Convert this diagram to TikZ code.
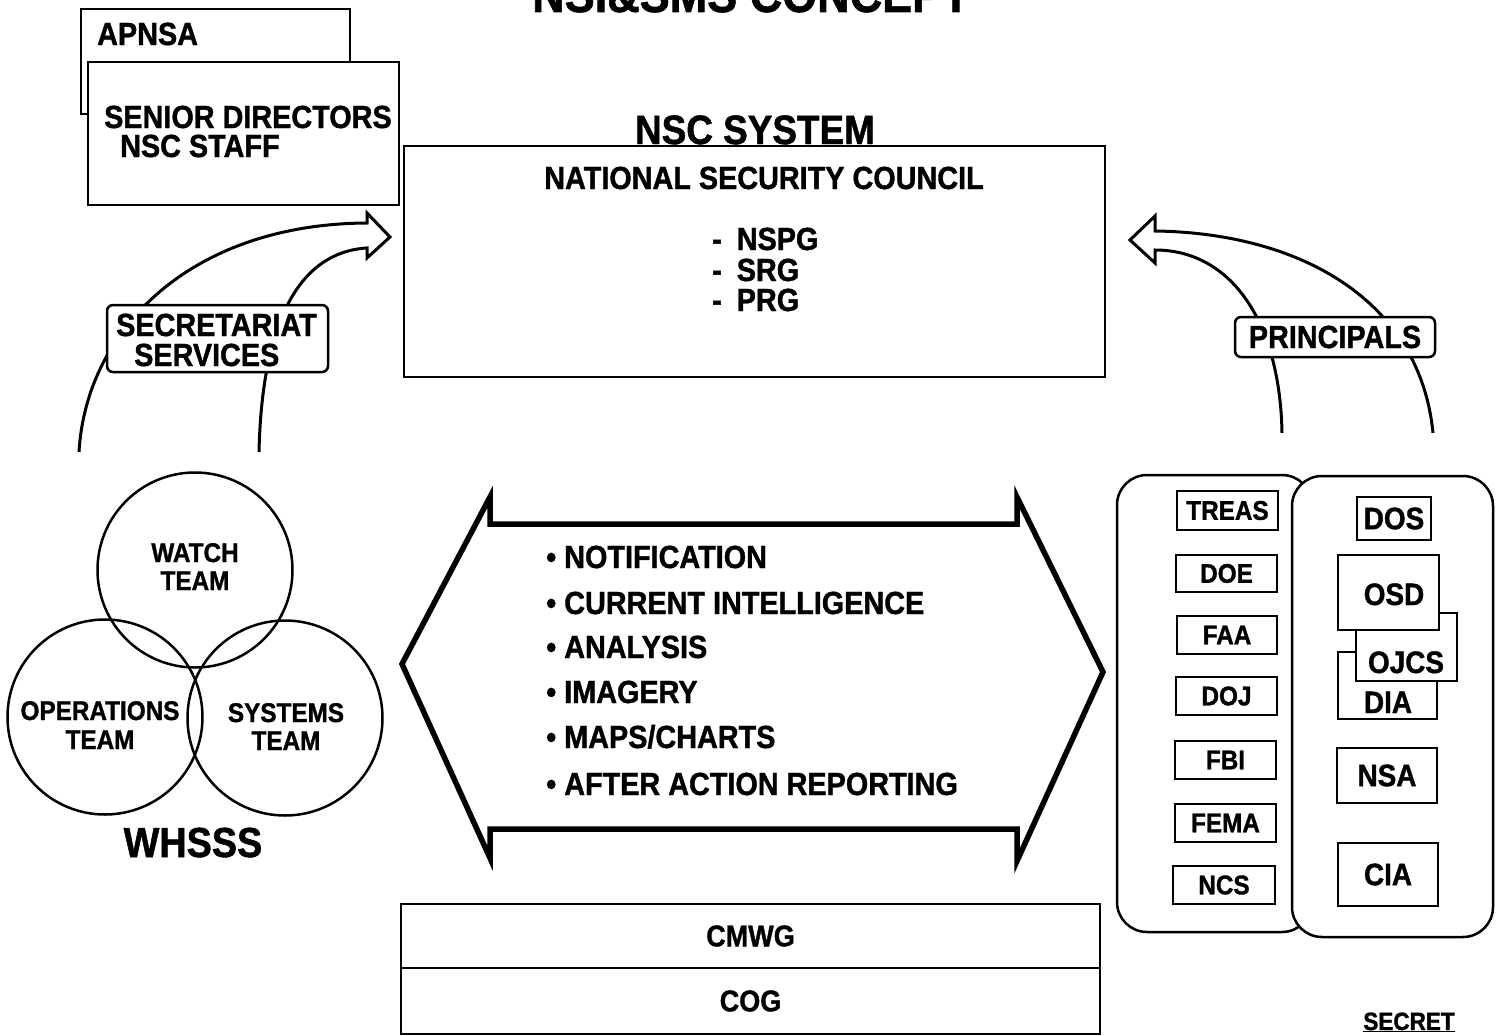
\documentclass[tikz,border=0pt]{standalone}
\usepackage{fontspec}
\setmainfont{Liberation Sans}[FakeStretch=0.9, BoldFeatures={FakeBold=1.2}]
\newcommand\fsz[1]{\fontsize{#1}{#1}\selectfont\bfseries}
\tikzset{
  box/.style={draw, line width=2.5pt, fill=white, inner sep=0pt, anchor=center},
  rbox/.style={box, rounded corners=6pt},
  team/.style={draw, line width=2.5pt, circle, minimum size=195pt, inner sep=0pt},
  txt/.style={inner sep=0pt, anchor=base west},
  ctxt/.style={inner sep=0pt, anchor=base},
  curve/.style={line width=3pt, line join=miter},
  big/.style={line width=5.5pt, line join=miter},
}
\begin{document}
\begin{tikzpicture}[x=1pt, y=-1pt]
\useasboundingbox (0,0) rectangle (1505,1036);
\clip (0,0) rectangle (1505,1036);

% title (cut by the page top, as in the reference)
\node[ctxt, font=\fsz{50}] (title) at (751,12) {NSI\&SMS CONCEPT};

% APNSA / senior directors
\node[box, minimum width=269pt, minimum height=105pt] (apnsa) at (215.5,61.5) {};
\node[txt, font=\fsz{32}] (apnsat) at (97,45) {APNSA};
\node[box, minimum width=311pt, minimum height=143pt] (senior) at (243.5,133.5) {};
\node[txt, font=\fsz{32}] (seniort) at (104,128) {SENIOR DIRECTORS};
\node[txt, font=\fsz{32}] (stafft) at (120,157) {NSC STAFF};

% NSC system
\node[box, minimum width=701pt, minimum height=231pt] (nsc) at (754.5,261.5) {};
\node[ctxt, font=\fsz{41}] (nscsys) at (755,144) {NSC SYSTEM};
\node[ctxt, font=\fsz{32}] (council) at (764,189) {NATIONAL SECURITY COUNCIL};
\node[txt, font=\fsz{32}] (nspg) at (712,250) {-\hspace{15pt}NSPG};
\node[txt, font=\fsz{32}] (srg) at (712,281) {-\hspace{15pt}SRG};
\node[txt, font=\fsz{32}] (prg) at (712,311) {-\hspace{15pt}PRG};

% left curved arrow (secretariat services)
\coordinate (la1) at (79,452);
\coordinate (la2) at (259,452);
\draw[curve] (la1) .. controls (86,330) and (190,224) .. (367,223)
  -- (367,213) -- (390,237) -- (367,258) -- (367,248)
  .. controls (300,252) and (262,320) .. (la2);
\node[rbox, minimum width=221pt, minimum height=67pt] (secr) at (217.5,338.5) {};
\node[txt, font=\fsz{32}] (secrt) at (116,336) {SECRETARIAT};
\node[txt, font=\fsz{32}] (servt) at (134,366) {SERVICES};

% right curved arrow (principals)
\coordinate (ra1) at (1433,433);
\coordinate (ra2) at (1282,433);
\draw[curve] (ra1) .. controls (1420,300) and (1300,233) .. (1155,231)
  -- (1155,216) -- (1130,240) -- (1155,263) -- (1155,250)
  .. controls (1230,250) and (1280,320) .. (ra2);
\node[rbox, minimum width=200pt, minimum height=40pt, font=\fsz{32}] (princ) at (1335,337) {PRINCIPALS};

% WHSSS circles
\node[team] (watch) at (195,570) {};
\node[team] (ops) at (105,717) {};
\node[team] (sys) at (285,718) {};
\node[ctxt, font=\fsz{27}] (watcht) at (195,562) {WATCH};
\node[ctxt, font=\fsz{27}] (watcht2) at (195,590) {TEAM};
\node[ctxt, font=\fsz{27}] (opst) at (100,720) {OPERATIONS};
\node[ctxt, font=\fsz{27}] (opst2) at (100,749) {TEAM};
\node[ctxt, font=\fsz{27}] (syst) at (286,722) {SYSTEMS};
\node[ctxt, font=\fsz{27}] (syst2) at (286,750) {TEAM};
\node[ctxt, font=\fsz{42}] (whsss) at (193,857) {WHSSS};

% big double arrow
\draw[big] (402,664) -- (490,497) -- (490,524) -- (1017,524) -- (1017,497)
  -- (1103,672) -- (1017,861) -- (1017,829) -- (490,829) -- (490,858) -- cycle;
\node[txt, font=\fsz{32}] (i1) at (546,568) {\textbullet\ NOTIFICATION};
\node[txt, font=\fsz{32}] (i2) at (546,614) {\textbullet\ CURRENT INTELLIGENCE};
\node[txt, font=\fsz{32}] (i3) at (546,658) {\textbullet\ ANALYSIS};
\node[txt, font=\fsz{32}] (i4) at (546,703) {\textbullet\ IMAGERY};
\node[txt, font=\fsz{32}] (i5) at (546,748) {\textbullet\ MAPS/CHARTS};
\node[txt, font=\fsz{32}] (i6) at (546,795) {\textbullet\ AFTER ACTION REPORTING};

% agencies panels
\draw[line width=2.5pt, rounded corners=30pt, fill=white] (1117,475) rectangle (1312,932);
\draw[line width=2.5pt, rounded corners=30pt, fill=white] (1292,476) rectangle (1493,937);
\node[box, minimum width=101pt, minimum height=39pt, font=\fsz{27}] (treas) at (1227.5,510.5) {TREAS};
\node[box, minimum width=101pt, minimum height=37pt, font=\fsz{27}] (doe) at (1226.5,573.5) {DOE};
\node[box, minimum width=100pt, minimum height=38pt, font=\fsz{27}] (faa) at (1227,635) {FAA};
\node[box, minimum width=101pt, minimum height=38pt, font=\fsz{27}] (doj) at (1226.5,696) {DOJ};
\node[box, minimum width=101pt, minimum height=38pt, font=\fsz{27}] (fbi) at (1225.5,760) {FBI};
\node[box, minimum width=101pt, minimum height=38pt, font=\fsz{27}] (fema) at (1225.5,823) {FEMA};
\node[box, minimum width=102pt, minimum height=38pt, font=\fsz{27}] (ncs) at (1224,885) {NCS};

\node[box, minimum width=74pt, minimum height=43pt, font=\fsz{31}] (dos) at (1394,518.5) {DOS};
\node[box, minimum width=99pt, minimum height=67pt] (dia) at (1387.5,685.5) {};
\node[box, minimum width=101pt, minimum height=68pt] (ojcs) at (1406.5,647) {};
\node[box, minimum width=101pt, minimum height=75pt] (osd) at (1388.5,592.5) {};
\node[ctxt, font=\fsz{31}] (osdt) at (1394,605) {OSD};
\node[ctxt, font=\fsz{31}] (ojcst) at (1406,673) {OJCS};
\node[ctxt, font=\fsz{31}] (diat) at (1388,713) {DIA};
\node[box, minimum width=100pt, minimum height=55pt, font=\fsz{31}] (nsa) at (1387,775.5) {NSA};
\node[box, minimum width=100pt, minimum height=63pt, font=\fsz{31}] (cia) at (1388,874.5) {CIA};

% CMWG / COG
\node[box, minimum width=699pt, minimum height=64pt, font=\fsz{30}] (cmwg) at (750.5,936) {CMWG};
\node[box, minimum width=699pt, minimum height=66pt, font=\fsz{30}] (cog) at (750.5,1001) {COG};

% classification
\node[ctxt, font=\fsz{25}] (secret) at (1409,1030) {\underline{SECRET}};
\end{tikzpicture}
\end{document}
